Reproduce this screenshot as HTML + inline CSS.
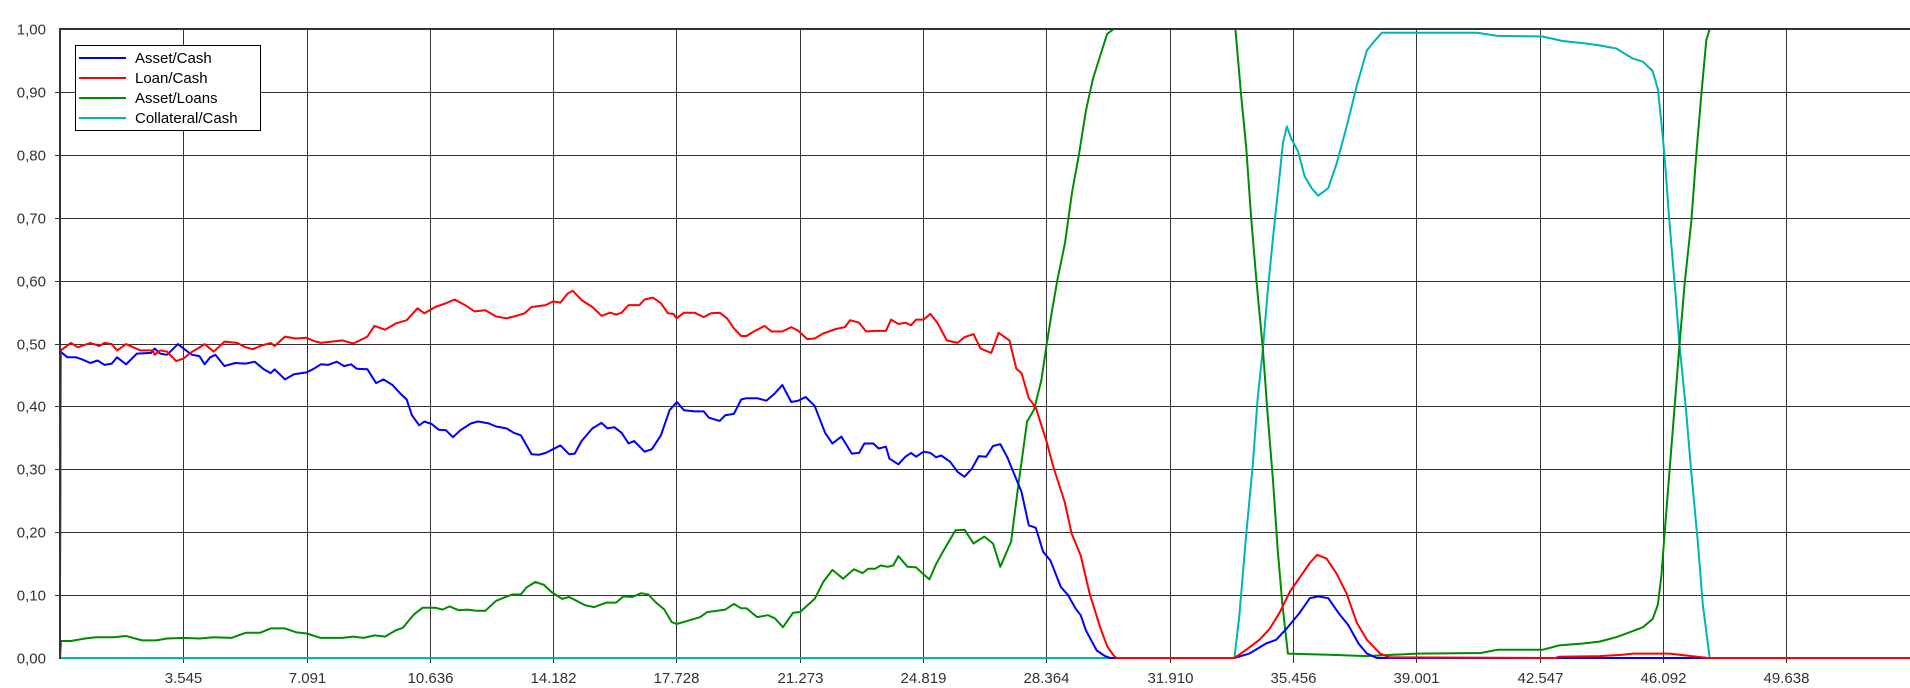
<!DOCTYPE html>
<html><head><meta charset="utf-8"><style>
html,body{margin:0;padding:0;background:#fff;}
svg{display:block;font-family:"Liberation Sans",Arial,sans-serif;}
</style></head><body>
<svg id="chart" width="1910" height="688" viewBox="0 0 1910 688" xmlns="http://www.w3.org/2000/svg">
<g id="grid"></g>
<g id="series"></g>
<g id="axes"></g>
<g id="legend">
  <rect x="75.5" y="45.5" width="185" height="85" fill="#fff" stroke="#000" stroke-width="1"/>
  <g><line x1="79" y1="58" x2="126" y2="58" stroke="#0000ff" stroke-width="2"/><text x="135" y="63" font-size="15" fill="#000">Asset/Cash</text></g>
  <g><line x1="79" y1="78" x2="126" y2="78" stroke="#ff0000" stroke-width="2"/><text x="135" y="83" font-size="15" fill="#000">Loan/Cash</text></g>
  <g><line x1="79" y1="98" x2="126" y2="98" stroke="#008c00" stroke-width="2"/><text x="135" y="103" font-size="15" fill="#000">Asset/Loans</text></g>
  <g><line x1="79" y1="118" x2="126" y2="118" stroke="#00b4b4" stroke-width="2"/><text x="135" y="123" font-size="15" fill="#000">Collateral/Cash</text></g>
</g>
</svg>
<script>
const xTickLabels = ["3.545","7.091","10.636","14.182","17.728","21.273","24.819","28.364","31.910","35.456","39.001","42.547","46.092","49.638"];
const xTickValues = [3.545,7.091,10.636,14.182,17.728,21.273,24.819,28.364,31.910,35.456,39.001,42.547,46.092,49.638];
const yTickValues = [0,0.1,0.2,0.3,0.4,0.5,0.6,0.7,0.8,0.9,1.0];
const yTickLabels = ["0,00","0,10","0,20","0,30","0,40","0,50","0,60","0,70","0,80","0,90","1,00"];

const loanX = [0,0.02,0.05,0.31,0.51,0.87,1.13,1.28,1.49,1.64,1.90,2.11,2.31,2.67,2.72,2.88,3.08,3.34,3.545,3.75,3.96,4.16,4.42,4.73,5.09,5.34,5.55,5.75,6.06,6.17,6.47,6.78,7.09,7.30,7.50,7.81,8.12,8.43,8.84,9.04,9.35,9.66,9.97,10.28,10.48,10.79,11.10,11.35,11.71,11.92,12.23,12.54,12.84,13.05,13.36,13.56,13.97,14.18,14.39,14.59,14.74,15.00,15.31,15.57,15.82,15.99,16.15,16.35,16.66,16.81,17.05,17.28,17.48,17.64,17.73,17.94,18.25,18.51,18.72,18.97,19.18,19.38,19.59,19.74,19.95,20.26,20.46,20.77,21.03,21.23,21.49,21.70,21.95,22.31,22.57,22.72,22.98,23.18,23.44,23.75,23.90,24.11,24.31,24.47,24.62,24.83,25.03,25.24,25.50,25.81,26.01,26.27,26.47,26.78,26.99,27.30,27.50,27.65,27.86,28.06,28.37,28.58,28.89,29.09,29.35,29.61,29.92,30.12,30.30,30.38,33.77,34.11,34.49,34.78,35.07,35.36,35.65,35.94,36.15,36.42,36.71,37.00,37.29,37.58,37.96,38.25,43.00,43.11,44.27,44.89,45.23,46.28,46.76,47.40,53.2];
const loanY = [0.12,0.49,0.490,0.501,0.494,0.501,0.496,0.501,0.499,0.489,0.499,0.494,0.489,0.489,0.482,0.489,0.487,0.472,0.476,0.485,0.492,0.499,0.487,0.503,0.501,0.494,0.491,0.496,0.501,0.496,0.511,0.508,0.509,0.504,0.501,0.503,0.505,0.500,0.511,0.528,0.522,0.532,0.537,0.556,0.548,0.558,0.564,0.570,0.559,0.551,0.553,0.543,0.540,0.543,0.548,0.558,0.561,0.567,0.565,0.579,0.584,0.569,0.558,0.544,0.549,0.546,0.549,0.561,0.561,0.570,0.573,0.564,0.548,0.547,0.540,0.549,0.549,0.542,0.548,0.549,0.540,0.524,0.512,0.512,0.519,0.528,0.519,0.519,0.526,0.520,0.507,0.508,0.516,0.523,0.526,0.537,0.533,0.519,0.520,0.520,0.538,0.531,0.533,0.529,0.538,0.538,0.547,0.532,0.505,0.501,0.510,0.515,0.492,0.485,0.517,0.505,0.460,0.453,0.413,0.398,0.344,0.301,0.248,0.198,0.163,0.102,0.047,0.018,0.004,0,0,0.013,0.029,0.046,0.072,0.105,0.128,0.151,0.164,0.158,0.134,0.102,0.056,0.029,0.007,0.001,0,0.002,0.003,0.005,0.007,0.007,0.004,0,0];

const assetX = [0,0.02,0.21,0.46,0.62,0.87,1.08,1.28,1.49,1.64,1.90,2.21,2.62,2.72,2.88,3.08,3.39,3.60,3.80,4.01,4.16,4.32,4.47,4.73,5.03,5.34,5.60,5.86,6.06,6.17,6.47,6.73,7.09,7.30,7.50,7.71,7.96,8.17,8.37,8.53,8.84,9.09,9.30,9.56,9.76,9.97,10.12,10.33,10.48,10.69,10.89,11.10,11.30,11.51,11.82,12.02,12.33,12.54,12.84,13.05,13.25,13.56,13.77,13.97,14.18,14.39,14.64,14.80,15.00,15.31,15.57,15.74,15.94,16.15,16.35,16.51,16.81,17.02,17.28,17.53,17.74,17.94,18.25,18.51,18.66,18.97,19.13,19.38,19.59,19.74,20.05,20.31,20.56,20.77,21.03,21.23,21.44,21.70,22.00,22.21,22.47,22.77,22.98,23.13,23.39,23.54,23.75,23.85,24.11,24.31,24.47,24.62,24.83,25.03,25.19,25.34,25.60,25.81,26.01,26.22,26.42,26.63,26.83,27.04,27.24,27.45,27.65,27.86,28.06,28.27,28.48,28.78,28.99,29.20,29.35,29.50,29.81,30.05,30.20,33.77,34.20,34.68,34.97,35.26,35.65,35.94,36.18,36.47,36.76,37.05,37.34,37.58,37.87,53.2];
const assetY = [0.12,0.487,0.478,0.478,0.475,0.469,0.473,0.466,0.468,0.478,0.467,0.484,0.485,0.492,0.484,0.482,0.499,0.490,0.482,0.480,0.467,0.478,0.482,0.464,0.469,0.468,0.471,0.459,0.453,0.459,0.443,0.451,0.454,0.460,0.467,0.466,0.471,0.464,0.467,0.460,0.459,0.437,0.443,0.434,0.422,0.411,0.386,0.370,0.376,0.372,0.363,0.362,0.351,0.362,0.373,0.376,0.373,0.368,0.365,0.358,0.354,0.324,0.323,0.326,0.332,0.338,0.324,0.325,0.345,0.365,0.374,0.365,0.367,0.358,0.341,0.345,0.328,0.332,0.354,0.394,0.407,0.394,0.392,0.392,0.382,0.377,0.386,0.388,0.411,0.413,0.413,0.409,0.421,0.434,0.407,0.409,0.415,0.401,0.358,0.341,0.352,0.325,0.326,0.341,0.341,0.333,0.336,0.317,0.308,0.320,0.326,0.320,0.328,0.326,0.319,0.322,0.312,0.296,0.288,0.301,0.321,0.320,0.337,0.340,0.319,0.291,0.264,0.211,0.207,0.169,0.155,0.113,0.100,0.079,0.068,0.044,0.012,0.003,0,0,0.007,0.023,0.029,0.046,0.072,0.095,0.098,0.095,0.072,0.052,0.023,0.007,0,0];

const loansX = [0,0.03,0.31,0.72,1.03,1.54,1.90,2.36,2.77,3.08,3.545,4.01,4.42,4.93,5.34,5.75,6.06,6.47,6.78,7.09,7.50,8.12,8.43,8.73,9.04,9.35,9.66,9.86,10.17,10.43,10.79,11.00,11.20,11.46,11.71,11.97,12.23,12.54,13.00,13.25,13.41,13.67,13.92,14.13,14.44,14.64,15.10,15.36,15.72,15.99,16.20,16.45,16.71,16.92,17.12,17.38,17.59,17.73,18.10,18.41,18.61,19.13,19.38,19.59,19.74,20.05,20.36,20.56,20.79,21.08,21.28,21.70,21.95,22.21,22.52,22.83,23.08,23.24,23.44,23.60,23.80,23.96,24.11,24.37,24.62,24.83,25.00,25.19,25.39,25.75,26.01,26.27,26.58,26.83,27.04,27.35,27.55,27.81,28.01,28.22,28.37,28.53,28.68,28.9,29.1,29.3,29.5,29.7,29.87,30.11,30.30,33.80,33.96,34.11,34.25,34.40,34.59,34.73,34.88,35.02,35.15,35.31,36.61,37.57,39.02,40.85,41.33,42.63,43.11,43.79,44.27,44.75,45.23,45.52,45.80,45.95,46.05,46.14,46.28,46.43,46.57,46.72,46.91,47.05,47.20,47.34,47.44,53.2];
const loansY = [0,0.027,0.027,0.031,0.033,0.033,0.035,0.028,0.028,0.031,0.032,0.031,0.033,0.032,0.040,0.040,0.047,0.047,0.041,0.039,0.032,0.032,0.034,0.032,0.036,0.034,0.044,0.048,0.069,0.080,0.080,0.077,0.082,0.076,0.077,0.075,0.075,0.091,0.101,0.101,0.112,0.121,0.116,0.105,0.094,0.097,0.084,0.081,0.088,0.088,0.098,0.097,0.103,0.101,0.089,0.077,0.057,0.054,0.060,0.065,0.073,0.077,0.086,0.079,0.079,0.065,0.068,0.063,0.049,0.072,0.073,0.094,0.121,0.140,0.126,0.141,0.135,0.142,0.142,0.147,0.145,0.147,0.162,0.145,0.144,0.133,0.125,0.149,0.169,0.203,0.204,0.182,0.193,0.182,0.145,0.185,0.272,0.376,0.395,0.442,0.498,0.553,0.601,0.66,0.74,0.80,0.87,0.92,0.95,0.992,1,1,0.897,0.812,0.701,0.602,0.491,0.386,0.282,0.170,0.085,0.007,0.005,0.003,0.007,0.008,0.013,0.013,0.020,0.023,0.026,0.033,0.043,0.049,0.062,0.085,0.131,0.196,0.295,0.399,0.498,0.596,0.694,0.799,0.897,0.982,1,1];

const collX = [0,33.77,33.91,34.11,34.30,34.44,34.59,34.73,34.88,35.02,35.17,35.28,35.41,35.60,35.79,35.99,36.18,36.47,36.71,37.00,37.29,37.58,37.77,38.01,39.02,40.75,41.33,42.63,43.21,43.88,44.27,44.75,45.23,45.52,45.80,45.95,46.05,46.14,46.28,46.43,46.57,46.76,46.91,47.10,47.24,47.44,53.2];
const collY = [0,0,0.065,0.196,0.308,0.413,0.491,0.583,0.668,0.740,0.819,0.845,0.825,0.806,0.766,0.747,0.735,0.747,0.786,0.845,0.910,0.966,0.979,0.994,0.994,0.994,0.989,0.988,0.981,0.977,0.974,0.969,0.953,0.948,0.933,0.904,0.851,0.799,0.694,0.596,0.498,0.393,0.295,0.183,0.085,0,0];

const PL=60,PT=29,PR=1909,PB=658,XMAX=53.17;
const sx=v=>PL+v/XMAX*(PR-PL);
const sy=v=>PB-v*(PB-PT);
const NS="http://www.w3.org/2000/svg";
function mk(tag,parent){const e=document.createElementNS(NS,tag);parent.appendChild(e);return e;}
const gridG=document.getElementById('grid'),axesG=document.getElementById('axes'),serG=document.getElementById('series');

xTickValues.forEach((v,i)=>{
  const x=Math.round(sx(v))+0.5;
  const ln=mk('line',gridG);
  
  
  ln.setAttribute('x1',x);ln.setAttribute('x2',x);ln.setAttribute('y1',PT);ln.setAttribute('y2',PB+5);
  ln.setAttribute('stroke','#333');ln.setAttribute('stroke-width','1');
  const t=mk('text',axesG);
  
  
  t.setAttribute('x',x);t.setAttribute('y',PB+25);t.setAttribute('text-anchor','middle');
  t.setAttribute('font-size','15');t.setAttribute('fill','#333');t.textContent=xTickLabels[i];
});
yTickValues.forEach((v,i)=>{
  const y=Math.round(sy(v))+0.5;
  if(v>0&&v<1){
    const ln=mk('line',gridG);
    
    
    ln.setAttribute('x1',PL-5);ln.setAttribute('x2',PR+1);ln.setAttribute('y1',y);ln.setAttribute('y2',y);
    ln.setAttribute('stroke','#333');ln.setAttribute('stroke-width','1');
  }
  const t=mk('text',axesG);
  
  
  t.setAttribute('x',46);t.setAttribute('y',y+5);t.setAttribute('text-anchor','end');
  t.setAttribute('font-size','15');t.setAttribute('fill','#333');t.textContent=yTickLabels[i];
});
const topBorder=mk('line',axesG);


topBorder.setAttribute('x1',PL-1);topBorder.setAttribute('x2',1910);topBorder.setAttribute('y1',PT);topBorder.setAttribute('y2',PT);
topBorder.setAttribute('stroke','#333');topBorder.setAttribute('stroke-width','2');
const yAxisLine=mk('line',axesG);


yAxisLine.setAttribute('x1',PL);yAxisLine.setAttribute('x2',PL);yAxisLine.setAttribute('y1',PT-1);yAxisLine.setAttribute('y2',PB+1);
yAxisLine.setAttribute('stroke','#333');yAxisLine.setAttribute('stroke-width','2');

function draw(xs,ys,color,name){
  const p=mk('polyline',serG);
  
  
  p.setAttribute('points',xs.map((x,i)=>sx(x).toFixed(1)+','+sy(ys[i]).toFixed(1)).join(' '));
  p.setAttribute('fill','none');p.setAttribute('stroke',color);p.setAttribute('stroke-width','2');
  p.setAttribute('stroke-linejoin','round');
}
draw(collX,collY,'#00b4b4','collateral-cash-line');
draw(loansX,loansY,'#008c00','asset-loans-line');
draw(assetX,assetY,'#0000ff','asset-cash-line');
draw(loanX,loanY,'#ff0000','loan-cash-line');
</script>
</body></html>
